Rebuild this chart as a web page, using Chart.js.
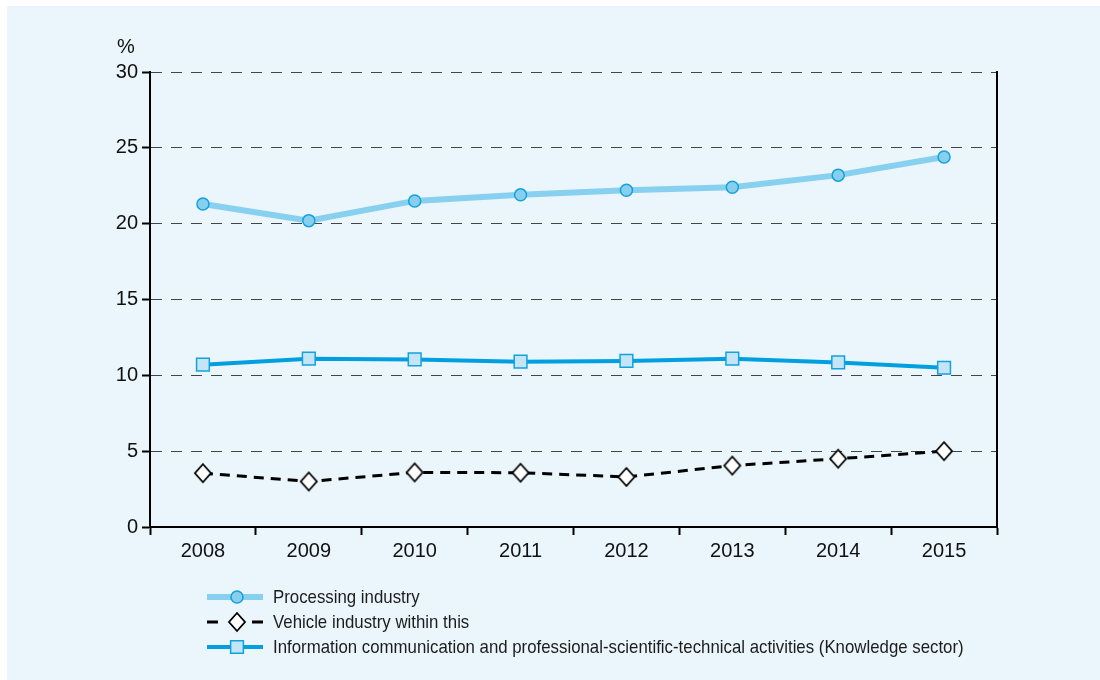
<!DOCTYPE html>
<html>
<head>
<meta charset="utf-8">
<title>Processing industry and knowledge sector</title>
<script src="https://cdn.jsdelivr.net/npm/chart.js@4"></script>
<style>
  html, body { margin: 0; padding: 0; background: #fff; }
  #panel { position: absolute; left: 7px; top: 6px; width: 1093px; height: 674px; background: #eaf5fc; }
  #wrap { position: absolute; left: 0; top: 0; width: 1100px; height: 680px; }
</style>
</head>
<body>
<div id="panel"></div>
<div id="wrap"><canvas id="shareChart" width="1100" height="680"></canvas></div>
<script>
// share of employment, %
const years = ['2008', '2009', '2010', '2011', '2012', '2013', '2014', '2015'];
const processing = [21.3, 20.2, 21.5, 21.9, 22.2, 22.4, 23.2, 24.4];
const vehicle = [3.55, 3.0, 3.6, 3.58, 3.3, 4.05, 4.5, 5.0];
const knowledge = [10.7, 11.1, 11.05, 10.9, 10.95, 11.1, 10.85, 10.5];
const seriesNames = [
    'Processing industry',
    'Vehicle industry within this',
    'Information communication and professional-scientific-technical activities (Knowledge sector)'
];

const tickFont = { family: '"Liberation Sans", Arial, sans-serif', size: 20 };

// white diamond, a little taller than wide
function makeDiamond(w, h) {
    const c = document.createElement('canvas');
    c.width = w + 4;
    c.height = h + 4;
    const g = c.getContext('2d');
    const cx = c.width / 2, cy = c.height / 2;
    g.beginPath();
    g.moveTo(cx, cy - h / 2);
    g.lineTo(cx + w / 2, cy);
    g.lineTo(cx, cy + h / 2);
    g.lineTo(cx - w / 2, cy);
    g.closePath();
    g.fillStyle = '#fff';
    g.fill();
    g.lineWidth = 1.8;
    g.strokeStyle = '#000';
    g.stroke();
    return c;
}
const diamond = makeDiamond(16, 18);

// legend rows under the plot: short line with the marker in the middle
const lineLegend = {
    id: 'lineLegend',
    afterDraw(chart) {
        const ctx = chart.ctx;
        chart.data.datasets.forEach(function (ds, row) {
            const y = 597 + row * 25;
            ctx.save();
            ctx.strokeStyle = ds.borderColor;
            ctx.lineWidth = ds.borderWidth;
            ctx.beginPath();
            if (ds.borderDash) {
                ctx.moveTo(207, y); ctx.lineTo(218, y);
                ctx.moveTo(252, y); ctx.lineTo(263, y);
            } else {
                ctx.moveTo(207, y); ctx.lineTo(263, y);
            }
            ctx.stroke();
            ctx.restore();

            ctx.save();
            ctx.fillStyle = ds.pointBackgroundColor;
            ctx.strokeStyle = ds.pointBorderColor;
            ctx.lineWidth = ds.pointBorderWidth;
            Chart.helpers.drawPoint(ctx, {
                pointStyle: ds.pointStyle,
                radius: ds.pointRadius,
                rotation: 0,
                borderWidth: ds.pointBorderWidth
            }, 237, y);
            ctx.restore();

            // condensed look for the legend text
            ctx.save();
            ctx.fillStyle = '#1c1c1c';
            ctx.font = '19px "Liberation Sans", Arial, sans-serif';
            ctx.textBaseline = 'middle';
            ctx.translate(273, y + 1);
            ctx.scale(0.885, 1);
            ctx.fillText(ds.label, 0, 0);
            ctx.restore();
        });

        // unit label above the value axis
        ctx.save();
        ctx.fillStyle = '#111';
        ctx.font = '20px "Liberation Sans", Arial, sans-serif';
        ctx.textAlign = 'center';
        ctx.textBaseline = 'middle';
        ctx.fillText('%', 126, 47);
        ctx.restore();
    }
};

const chartElem = document.getElementById('shareChart');
new Chart(chartElem.getContext('2d'), {
    type: 'line',
    data: {
        labels: years,
        datasets: [{
            label: seriesNames[0],
            data: processing,
            borderColor: '#88d0f0',
            borderWidth: 6,
            pointStyle: 'circle',
            pointRadius: 6,
            pointBackgroundColor: '#88cfee',
            pointBorderColor: '#12a2dd',
            pointBorderWidth: 1.5,
            tension: 0
        }, {
            label: seriesNames[1],
            data: vehicle,
            borderColor: '#000',
            borderWidth: 3,
            borderDash: [10, 7],
            pointStyle: diamond,
            pointRadius: 9,
            pointBackgroundColor: '#fff',
            pointBorderColor: '#000',
            pointBorderWidth: 1.5,
            tension: 0
        }, {
            label: seriesNames[2],
            data: knowledge,
            borderColor: '#00a0e0',
            borderWidth: 4,
            pointStyle: 'rect',
            pointRadius: 9,
            pointBackgroundColor: '#c3e5f7',
            pointBorderColor: '#12a2dd',
            pointBorderWidth: 1.5,
            tension: 0
        }]
    },
    options: {
        responsive: false,
        animation: false,
        devicePixelRatio: 1,
        layout: { padding: { left: 80, right: 103, top: 72, bottom: 103 } },
        plugins: {
            legend: { display: false },
            tooltip: { enabled: false }
        },
        scales: {
            x: {
                offset: true,
                grid: {
                    offset: true,
                    drawOnChartArea: false,
                    tickLength: 8,
                    tickColor: '#000',
                    tickWidth: 2,
                    color: '#000'
                },
                border: { color: '#000', width: 2 },
                ticks: { font: tickFont, color: '#111', padding: 4 },
                afterFit(scale) { scale.height = 50; }
            },
            y: {
                min: 0,
                max: 30,
                ticks: { stepSize: 5, font: tickFont, color: '#111', padding: 4 },
                grid: {
                    color: function (c) { return c.tick && c.tick.value === 0 ? 'rgba(0,0,0,0)' : '#444'; },
                    lineWidth: 1,
                    tickColor: '#000',
                    tickWidth: 2,
                    tickLength: 8
                },
                border: { color: '#000', width: 2, dash: [11, 9] },
                afterFit(scale) { scale.width = 70; }
            },
            y2: {
                position: 'right',
                min: 0,
                max: 30,
                ticks: { display: false },
                grid: { drawOnChartArea: false, drawTicks: false },
                border: { color: '#000', width: 2 },
                afterFit(scale) { scale.width = 0; }
            }
        }
    },
    plugins: [lineLegend]
});
</script>
</body>
</html>
